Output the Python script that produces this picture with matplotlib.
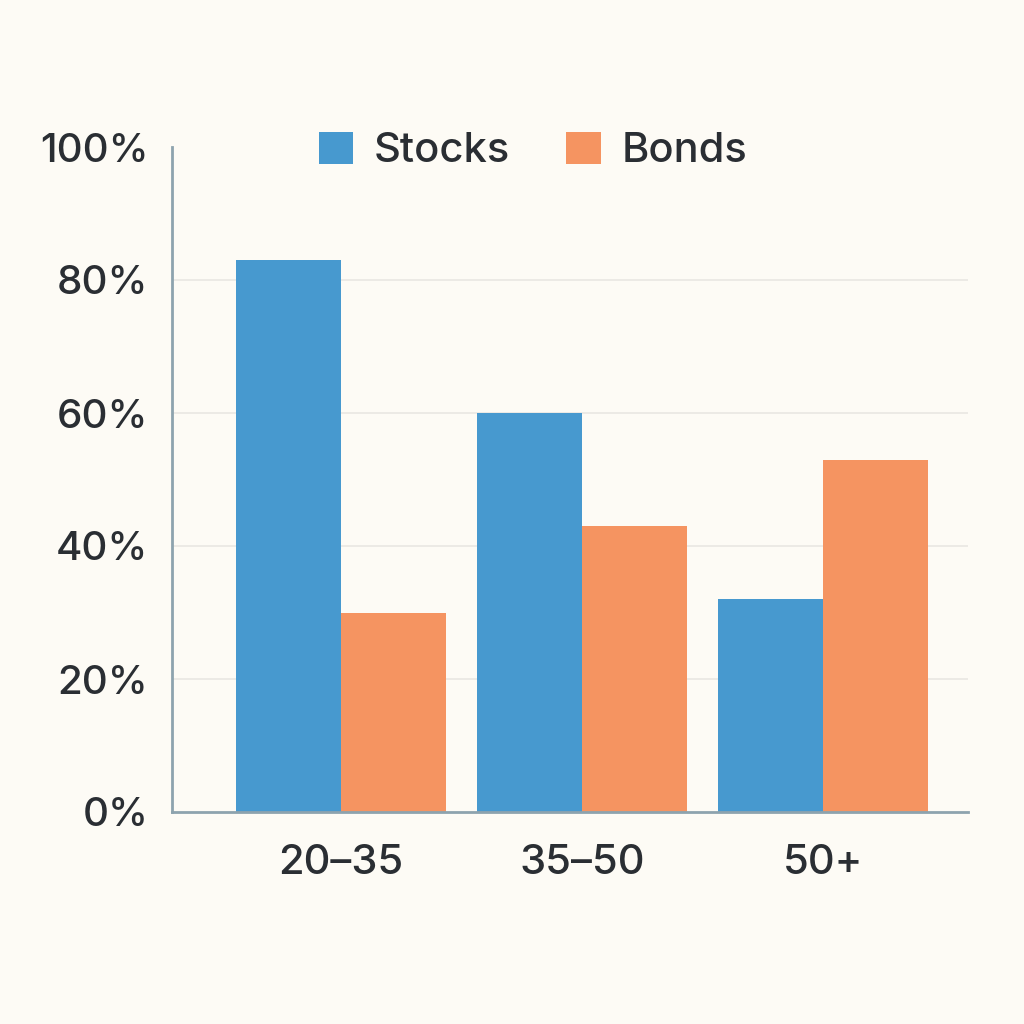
import matplotlib
matplotlib.use("Agg")
import matplotlib.pyplot as plt
import numpy as np

categories = ["20–35", "35–50", "50+"]
stocks = [83, 60, 32]
bonds = [30, 43, 53]
yticks = [0, 20, 40, 60, 80, 100]
ytick_labels = ["0%", "20%", "40%", "60%", "80%", "100%"]

plt.rcParams['font.family'] = ['Inter', 'DejaVu Sans']
plt.rcParams['font.weight'] = 'medium'
bg = "#FDFBF5"
blue = "#4799CF"
orange = "#F59461"
text_c = "#2A2E33"
spine_c = "#8DA3AE"

fig = plt.figure(figsize=(10.24, 10.24), dpi=100, facecolor=bg)
ax = fig.add_axes([172/1024, 1-812/1024, (968-172)/1024, (812-147)/1024])
ax.set_facecolor(bg)

x = np.arange(len(categories))
w = 0.435
b1 = ax.bar(x - w/2, stocks, w, color=blue, label="Stocks", zorder=3)
b2 = ax.bar(x + w/2, bonds, w, color=orange, label="Bonds", zorder=3)

ax.set_xlim(-0.70, 2.60)
ax.set_ylim(0, 100)
ax.set_yticks(yticks)
ax.set_yticklabels(ytick_labels)
ax.set_xticks(x)
ax.set_xticklabels(categories)
ax.tick_params(axis='y', length=0, pad=17, labelsize=29, labelcolor=text_c)
ax.tick_params(axis='x', length=0, pad=23, labelsize=30, labelcolor=text_c)

for yv in yticks[1:-1]:
    ax.axhline(yv, color="#E9E7E2", lw=1.2, zorder=1)

for s in ["top", "right"]:
    ax.spines[s].set_visible(False)
for s in ["left", "bottom"]:
    ax.spines[s].set_color(spine_c)
    ax.spines[s].set_linewidth(2)
ax.spines["bottom"].set_zorder(4)

fig.legend(handles=[b1, b2], labels=["Stocks", "Bonds"], loc="center",
           bbox_to_anchor=(533/1024, 1-151/1024), ncol=2, frameon=False,
           prop={'size': 30, 'weight': 'medium'},
           handlelength=0.82, handleheight=0.82, handletextpad=0.5,
           columnspacing=1.35, labelcolor=text_c)

fig.savefig("out.png", dpi=100, facecolor=bg)
